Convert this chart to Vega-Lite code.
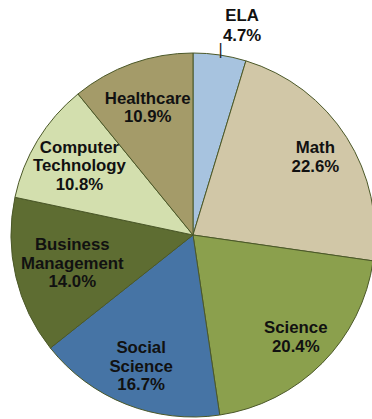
{
  "$schema": "https://vega.github.io/schema/vega-lite/v6.json",
  "width": 358,
  "height": 364,
  "padding": {"left": 14, "top": 53, "right": 0, "bottom": 2},
  "autosize": {"type": "none"},
  "background": "white",
  "data": {
    "values": [
      {"category": "ELA", "pct": 4.7, "rank": 1, "label": "ELA\n4.7%"},
      {"category": "Math", "pct": 22.6, "rank": 2, "label": "Math\n22.6%"},
      {"category": "Science", "pct": 20.4, "rank": 3, "label": "Science\n20.4%"},
      {"category": "Social Science", "pct": 16.7, "rank": 4, "label": "Social\nScience\n16.7%"},
      {"category": "Business Management", "pct": 14.0, "rank": 5, "label": "Business\nManagement\n14.0%"},
      {"category": "Computer Technology", "pct": 10.8, "rank": 6, "label": "Computer\nTechnology\n10.8%"},
      {"category": "Healthcare", "pct": 10.9, "rank": 7, "label": "Healthcare\n10.9%"}
    ]
  },
  "encoding": {
    "theta": {"field": "pct", "type": "quantitative", "stack": true},
    "order": {"field": "rank", "type": "quantitative"}
  },
  "layer": [
    {
      "mark": {"type": "arc", "outerRadius": 182, "stroke": "#4b5828", "strokeWidth": 1},
      "encoding": {
        "color": {
          "field": "category",
          "type": "nominal",
          "scale": {
            "domain": ["ELA", "Math", "Science", "Social Science", "Business Management", "Computer Technology", "Healthcare"],
            "range": ["#a7c3df", "#d1c7a7", "#8ba04d", "#4674a5", "#5e6d32", "#d3dfae", "#a49b69"]
          },
          "legend": null
        }
      }
    },
    {
      "mark": {"type": "text", "font": "Liberation Sans", "fontSize": 16.8, "fontWeight": "bold", "lineBreak": "\n", "lineHeight": 18.5, "color": "#111111", "dy": -9},
      "encoding": {
        "radius": {"value": 145},
        "text": {"condition": {"test": "indexof(['Math','Science'], datum.category) >= 0", "field": "label"}, "value": ""}
      }
    },
    {
      "mark": {"type": "text", "font": "Liberation Sans", "fontSize": 16.8, "fontWeight": "bold", "lineBreak": "\n", "lineHeight": 18.5, "color": "#111111", "dy": -9},
      "encoding": {
        "radius": {"value": 135},
        "text": {"condition": {"test": "datum.category === 'Healthcare'", "field": "label"}, "value": ""}
      }
    },
    {
      "mark": {"type": "text", "font": "Liberation Sans", "fontSize": 16.8, "fontWeight": "bold", "lineBreak": "\n", "lineHeight": 18.5, "color": "#111111", "dy": -18},
      "encoding": {
        "radius": {"value": 141},
        "text": {"condition": {"test": "datum.category === 'Social Science'", "field": "label"}, "value": ""}
      }
    },
    {
      "mark": {"type": "text", "font": "Liberation Sans", "fontSize": 16.8, "fontWeight": "bold", "lineBreak": "\n", "lineHeight": 18.5, "color": "#111111", "dy": -18},
      "encoding": {
        "radius": {"value": 133},
        "text": {"condition": {"test": "datum.category === 'Computer Technology'", "field": "label"}, "value": ""}
      }
    },
    {
      "mark": {"type": "text", "font": "Liberation Sans", "fontSize": 16.8, "fontWeight": "bold", "lineBreak": "\n", "lineHeight": 18.5, "color": "#111111", "dy": -18},
      "encoding": {
        "radius": {"value": 124},
        "text": {"condition": {"test": "datum.category === 'Business Management'", "field": "label"}, "value": ""}
      }
    },
    {
      "mark": {"type": "text", "font": "Liberation Sans", "fontSize": 16.8, "fontWeight": "bold", "lineBreak": "\n", "lineHeight": 19.5, "color": "#111111", "dx": 18, "dy": -10},
      "encoding": {
        "radius": {"value": 211},
        "text": {"condition": {"test": "datum.category === 'ELA'", "field": "label"}, "value": ""}
      }
    },
    {
      "mark": {"type": "text", "font": "Liberation Sans", "fontSize": 16, "fontWeight": "normal", "color": "#222222"},
      "encoding": {
        "radius": {"value": 187},
        "text": {"condition": {"test": "datum.category === 'ELA'", "value": "|"}, "value": ""}
      }
    }
  ]
}
